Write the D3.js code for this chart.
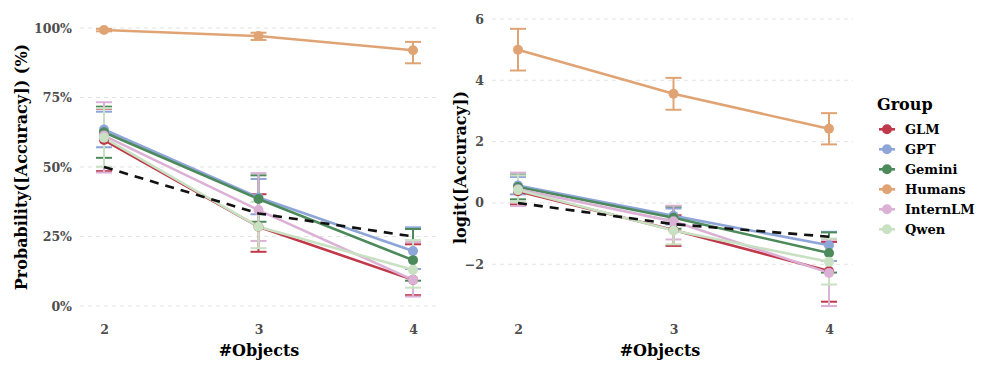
<!DOCTYPE html>
<html>
<head>
<meta charset="utf-8">
<script src="https://cdn.jsdelivr.net/npm/d3@7"></script>
<style>
  body { margin: 0; background: #fff; }
  svg { display: block; font-family: "DejaVu Serif", serif; font-weight: bold; }
</style>
</head>
<body>
<svg id="chart" width="997" height="374"></svg>
<script>
// Accuracy by number of objects — probability and logit panels

const objects = [2, 3, 4];
const groups = ['GLM', 'GPT', 'Gemini', 'Humans', 'InternLM', 'Qwen'];
const groupColors = ['#c0394a', '#8ea5d8', '#4d8a5b', '#e0a474', '#dbb2d6', '#c8e1c2'];

// probability panel (%), rows follow `groups`
const probMean = [
  [59.7, 28.5, 9.4],
  [63.5, 39.0, 19.8],
  [62.5, 38.5, 16.5],
  [99.3, 97.1, 92.0],
  [61.3, 34.5, 9.4],
  [60.5, 28.5, 13.0]
];
const probLow = [
  [48.5, 19.5, 3.9],
  [57.1, 33.0, 13.3],
  [53.3, 30.3, 9.1],
  [98.8, 95.7, 87.3],
  [48.0, 23.4, 3.4],
  [50.1, 20.8, 6.6]
];
const probHigh = [
  [71.0, 40.2, 22.2],
  [69.9, 45.7, 28.3],
  [71.7, 47.0, 27.7],
  [99.7, 98.3, 95.0],
  [73.3, 47.8, 23.0],
  [71.2, 37.5, 23.7]
];
const probChance = [50, 33.3, 25];
const probTicks = [0, 25, 50, 75, 100];

// logit panel
const logitMean = [
  [0.38, -0.88, -2.22],
  [0.57, -0.42, -1.38],
  [0.52, -0.48, -1.63],
  [5.00, 3.56, 2.42],
  [0.45, -0.60, -2.28],
  [0.42, -0.90, -1.92]
];
const logitLow = [
  [-0.05, -1.40, -3.22],
  [0.28, -0.70, -1.89],
  [0.12, -0.84, -2.27],
  [4.32, 3.04, 1.91],
  [-0.10, -1.19, -3.36],
  [0.03, -1.35, -2.66]
];
const logitHigh = [
  [0.90, -0.40, -1.27],
  [0.85, -0.18, -0.94],
  [0.93, -0.12, -0.96],
  [5.68, 4.08, 2.93],
  [0.99, -0.09, -1.20],
  [0.90, -0.50, -1.16]
];
const logitChance = [0, -0.69, -1.1];
const logitTicks = [-2, 0, 2, 4, 6];

const svg = d3.select('#chart');

function drawPanel(o) {
  const x = d3.scaleLinear().domain([2, 4]).range(o.xRange);
  const y = d3.scaleLinear().domain(o.yDomain).range(o.yRange);
  const g = svg.append('g');

  // gridlines
  g.append('g').selectAll('line').data(o.ticks).join('line')
    .attr('x1', o.gridX[0]).attr('x2', o.gridX[1])
    .attr('y1', d => y(d)).attr('y2', d => y(d))
    .attr('stroke', '#e3e3e3').attr('stroke-width', 1).attr('stroke-dasharray', '4,4');

  // y axis labels
  const yAxis = g.append('g').attr('transform', `translate(${o.gridX[0]},0)`)
    .call(d3.axisLeft(y).tickValues(o.ticks).tickFormat(o.fmt).tickSize(0).tickPadding(o.tickPad));
  yAxis.select('.domain').remove();
  yAxis.selectAll('text').attr('fill', '#4d4d4d').attr('font-size', 12.5)
    .attr('font-family', '"DejaVu Serif", serif').attr('font-weight', 'bold');

  // x axis labels
  const xAxis = g.append('g').attr('transform', `translate(0,${o.xAxisY})`)
    .call(d3.axisBottom(x).tickValues(objects).tickFormat(d3.format('d')).tickSize(0).tickPadding(0));
  xAxis.select('.domain').remove();
  xAxis.selectAll('text').attr('fill', '#4d4d4d').attr('font-size', 12.5)
    .attr('font-family', '"DejaVu Serif", serif').attr('font-weight', 'bold');

  // titles
  g.append('text').attr('x', o.xTitleX).attr('y', 356).attr('text-anchor', 'middle')
    .attr('font-size', 16).text('#Objects');
  g.append('text').attr('transform', `translate(${o.yTitleX},${o.yTitleY}) rotate(-90)`)
    .attr('text-anchor', 'middle').attr('font-size', 16).text(o.yTitle);

  const series = groups.map((name, i) => ({
    name, color: groupColors[i],
    pts: objects.map((n, j) => ({ n, m: o.mean[i][j], lo: o.low[i][j], hi: o.high[i][j] }))
  }));

  // error bars
  const eb = g.append('g');
  series.forEach(s => {
    const sg = eb.append('g').attr('stroke', s.color).attr('stroke-width', 2);
    sg.selectAll('.v').data(s.pts).join('line')
      .attr('x1', d => x(d.n)).attr('x2', d => x(d.n)).attr('y1', d => y(d.lo)).attr('y2', d => y(d.hi));
    sg.selectAll('.lo').data(s.pts).join('line')
      .attr('x1', d => x(d.n) - 8).attr('x2', d => x(d.n) + 8).attr('y1', d => y(d.lo)).attr('y2', d => y(d.lo));
    sg.selectAll('.hi').data(s.pts).join('line')
      .attr('x1', d => x(d.n) - 8).attr('x2', d => x(d.n) + 8).attr('y1', d => y(d.hi)).attr('y2', d => y(d.hi));
  });

  // lines
  const line = d3.line().x(d => x(d.n)).y(d => y(d.m));
  g.append('g').selectAll('path').data(series).join('path')
    .attr('d', d => line(d.pts)).attr('fill', 'none')
    .attr('stroke', d => d.color).attr('stroke-width', 2.6);

  // points
  series.forEach(s => {
    g.append('g').selectAll('circle').data(s.pts).join('circle')
      .attr('cx', d => x(d.n)).attr('cy', d => y(d.m)).attr('r', 5).attr('fill', s.color);
  });

  // chance line
  g.append('path')
    .attr('d', d3.line().x((d, j) => x(objects[j])).y(d => y(d))(o.chance))
    .attr('fill', 'none').attr('stroke', '#111').attr('stroke-width', 2.6).attr('stroke-dasharray', '9,7');
}

drawPanel({
  xRange: [104, 413], yDomain: [0, 100], yRange: [306, 28], gridX: [80, 438],
  ticks: probTicks, fmt: d => d + '%', tickPad: 8, xAxisY: 337 - 12,
  xTitleX: 259, yTitleX: 27, yTitleY: 167, yTitle: 'Probability([Accuracy]) (%)',
  mean: probMean, low: probLow, high: probHigh, chance: probChance
});

drawPanel({
  xRange: [518, 829], yDomain: [-2, 6], yRange: [264.3, 19], gridX: [492, 853],
  ticks: logitTicks, fmt: d3.format('d'), tickPad: 8, xAxisY: 337 - 12,
  xTitleX: 660, yTitleX: 466, yTitleY: 167.5, yTitle: 'logit([Accuracy])',
  mean: logitMean, low: logitLow, high: logitHigh, chance: logitChance
});

// legend
const legend = svg.append('g').attr('transform', 'translate(877,0)');
legend.append('text').attr('x', 0).attr('y', 110).attr('font-size', 16).text('Group');
const item = legend.selectAll('.item').data(groups).join('g')
  .attr('transform', (d, i) => `translate(0,${129.3 + i * 20})`);
item.append('line').attr('x1', 2).attr('x2', 18).attr('stroke', (d, i) => groupColors[i]).attr('stroke-width', 2.6);
item.append('circle').attr('cx', 10).attr('r', 5).attr('fill', (d, i) => groupColors[i]);
item.append('text').attr('x', 28).attr('dy', '0.35em').attr('font-size', 13).text(d => d);
</script>
</body>
</html>
